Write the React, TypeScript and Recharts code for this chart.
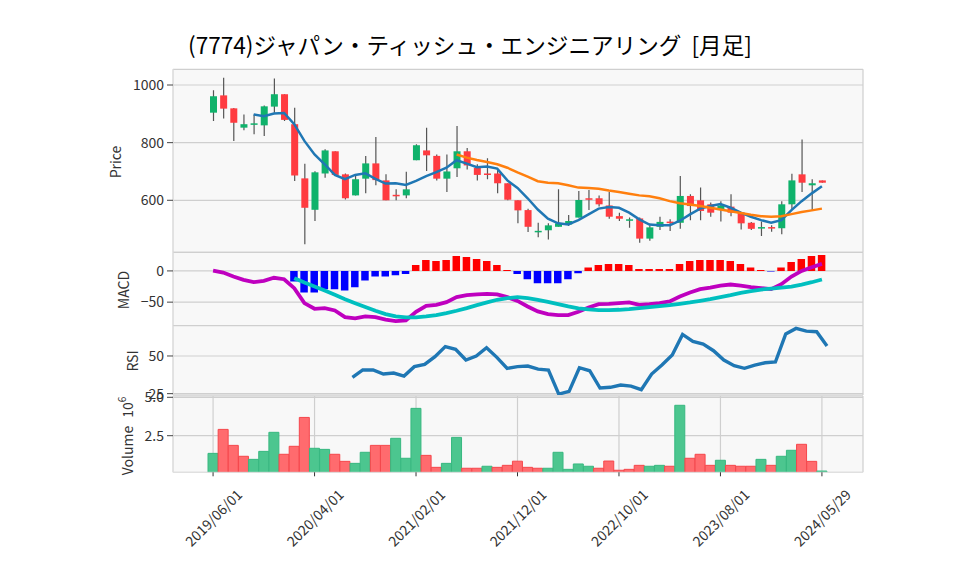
import React from 'react';
import { ComposedChart, Bar, Line, XAxis, YAxis, CartesianGrid, Cell } from 'recharts';

const FONT = '"Noto Sans CJK JP", "Noto Sans", sans-serif';
const UP = '#0fb26b';
const DOWN = '#ff3b40';
const W = 958;
const H = 575;

// month labels (the last one is the current, partial month)
const dates = [
  '2019/06/01', '2019/07/01', '2019/08/01', '2019/09/01', '2019/10/01', '2019/11/01', '2019/12/01',
  '2020/01/01', '2020/02/01', '2020/03/01', '2020/04/01', '2020/05/01', '2020/06/01', '2020/07/01',
  '2020/08/01', '2020/09/01', '2020/10/01', '2020/11/01', '2020/12/01', '2021/01/01', '2021/02/01',
  '2021/03/01', '2021/04/01', '2021/05/01', '2021/06/01', '2021/07/01', '2021/08/01', '2021/09/01',
  '2021/10/01', '2021/11/01', '2021/12/01', '2022/01/01', '2022/02/01', '2022/03/01', '2022/04/01',
  '2022/05/01', '2022/06/01', '2022/07/01', '2022/08/01', '2022/09/01', '2022/10/01', '2022/11/01',
  '2022/12/01', '2023/01/01', '2023/02/01', '2023/03/01', '2023/04/01', '2023/05/01', '2023/06/01',
  '2023/07/01', '2023/08/01', '2023/09/01', '2023/10/01', '2023/11/01', '2023/12/01', '2024/01/01',
  '2024/02/01', '2024/03/01', '2024/04/01', '2024/05/01', '2024/05/29',
];

const opens = [
  904, 964, 919, 852, 866, 860, 925, 968, 864, 676, 567, 693, 770, 690, 617, 675, 728, 669, 619, 617,
  739, 773, 754, 675, 711, 770, 712, 693, 693, 659, 600, 566, 492, 496, 508, 516, 540, 607, 607, 582,
  545, 529, 537, 467, 508, 526, 522, 615, 600, 586, 566, 578, 557, 522, 503, 507, 503, 586, 690, 652, 669,
];
const highs = [
  982, 1025, 920, 898, 898, 929, 1023, 968, 921, 727, 701, 777, 770, 693, 690, 754, 820, 690, 638, 699,
  794, 852, 759, 759, 858, 781, 725, 746, 707, 659, 600, 571, 522, 520, 638, 549, 632, 636, 617, 629,
  557, 540, 540, 513, 543, 534, 684, 621, 644, 592, 597, 621, 557, 525, 526, 513, 597, 692, 811, 673, 669,
];
const lows = [
  875, 884, 806, 843, 829, 823, 904, 875, 667, 447, 528, 678, 688, 603, 617, 624, 652, 600, 600, 607,
  739, 702, 669, 629, 681, 707, 669, 673, 624, 600, 520, 490, 472, 464, 508, 511, 540, 566, 578, 536,
  528, 505, 453, 460, 497, 493, 501, 531, 531, 543, 526, 545, 499, 497, 476, 491, 482, 566, 629, 566, 661,
];
const closes = [
  961, 918, 869, 864, 867, 926, 968, 879, 686, 574, 697, 773, 688, 607, 673, 728, 670, 600, 617, 638,
  791, 756, 675, 700, 770, 721, 688, 689, 659, 602, 565, 508, 494, 513, 520, 528, 601, 604, 586, 543,
  536, 534, 467, 506, 525, 523, 615, 580, 563, 557, 582, 557, 520, 501, 507, 505, 586, 669, 661, 659, 661,
];
// volume in millions of shares
const volumes = [
  1.35, 2.91, 1.87, 1.16, 0.96, 1.48, 2.72, 1.29, 1.81, 3.69, 1.68, 1.61, 1.29, 0.83, 0.7, 1.42, 1.87, 1.87,
  2.33, 1.03, 4.28, 1.22, 0.44, 0.7, 2.39, 0.38, 0.38, 0.51, 0.44, 0.57, 0.84, 0.44, 0.38, 0.38, 1.42, 0.31,
  0.66, 0.51, 0.38, 0.85, 0.25, 0.31, 0.57, 0.51, 0.57, 0.51, 4.48, 1.03, 1.29, 0.57, 0.9, 0.57, 0.51, 0.51,
  0.96, 0.57, 1.16, 1.55, 1.94, 0.83, 0.2,
];
const ma5 = [
  null, null, null, null, 898, 892, 901, 903, 864, 806, 759, 725, 688, 673, 688, 694, 674, 658, 659, 653,
  667, 684, 698, 713, 739, 727, 715, 717, 710, 669, 643, 607, 568, 536, 520, 516, 531, 551, 571, 577,
  574, 557, 534, 516, 513, 513, 529, 551, 571, 580, 587, 574, 557, 543, 531, 522, 531, 566, 597, 624, 649,
];
const ma25 = [
  null, null, null, null, null, null, null, null, null, null, null, null, null, null, null, null, null, null,
  null, null, null, null, null, null, 759, 748, 740, 733, 725, 713, 697, 682, 666, 661, 659, 652, 644, 643,
  640, 634, 629, 623, 617, 614, 607, 597, 590, 585, 580, 574, 568, 562, 556, 550, 545, 543, 545, 552, 559,
  565, 571,
];
const macd = [
  0.5, -2.6, -9, -14.3, -18, -16, -11, -13.3, -27.6, -51.6, -60.6, -59.5, -63.3, -73.9, -76, -72.8, -73.9,
  -78.1, -80.3, -79.2, -65.4, -55.8, -54.2, -50, -42, -38.8, -37.7, -36.7, -37.7, -42, -48, -56.9, -64.8,
  -69.1, -70.7, -70.7, -65.4, -58.5, -53.2, -52.6, -51.6, -50.5, -54.2, -53.2, -51.6, -48.9, -40.9, -34.5,
  -29.2, -26.6, -23.4, -21.8, -23.4, -26, -27.6, -29.2, -21.3, -9, 0, 5.9, 11.2,
];
const signal = [
  null, null, null, null, null, null, null, null, -11.7, -18.6, -25, -31.4, -38.3, -45.2, -51.6, -57.9,
  -63.8, -69.1, -72.8, -74.4, -74.4, -72.8, -70.7, -67.5, -63.8, -59.5, -54.7, -50.5, -46.2, -43.6, -42,
  -43.6, -46.2, -49.4, -53.2, -56.9, -60.1, -61.7, -62.7, -62.7, -62.2, -61.1, -59.5, -57.9, -56.3, -54.7,
  -52.6, -50.5, -47.8, -45.2, -42, -38.8, -35.1, -32.4, -29.8, -28.2, -26.6, -25, -21.8, -18.1, -13.8,
];
const hist = [
  null, null, null, null, null, null, null, null, -17, -34.5, -34.5, -29.2, -29.2, -31.4, -26, -15.4, -9,
  -9, -6.9, -4.8, 9.6, 17.5, 16, 17.5, 23.9, 22.3, 19.1, 16, 9.6, 1.6, -5, -13.3, -19.7, -19.7, -19.7,
  -13.3, -3.7, 5.3, 9.6, 11.2, 11.2, 9.6, 3.2, 3.2, 3.2, 3.2, 11.2, 16, 17.5, 17.5, 17.5, 16, 11.2, 5.3,
  1.6, -1, 5.3, 14.4, 19.1, 23.9, 25.5,
];
const rsi = [
  null, null, null, null, null, null, null, null, null, null, null, null, null, null, 35.8, 40.7, 40.7, 38,
  38.7, 36.7, 42.9, 44.4, 49.5, 56.2, 54.4, 47.3, 50, 55.5, 49.1, 41.8, 42.9, 43.3, 41.3, 40.7, 24.7, 26.5,
  42.2, 40.2, 28.7, 29.2, 30.7, 30, 27.6, 38, 44, 50.6, 64.3, 59.7, 57.9, 53.5, 47.3, 43.5, 41.8, 44, 45.5,
  46, 64.6, 68.3, 66.5, 66.1, 56.6,
];

const rows = dates.map((date, i) => ({
  idx: i,
  date,
  open: opens[i],
  high: highs[i],
  low: lows[i],
  close: closes[i],
  volume: volumes[i],
  volUp: i === 0 || closes[i] >= closes[i - 1],
  ma5: ma5[i],
  ma25: ma25[i],
  macd: macd[i],
  signal: signal[i],
  hist: hist[i],
  rsi: rsi[i],
}));

const PLOT_L = 173;
const PLOT_R = 863;
const Y_W = 60;
const PAD = { left: 35, right: 36 };
const GRID = '#cfcfcf';
const BG = '#f8f8f8';
const SPINE = '#e4e4e4';
const tickStyle = { fontSize: 14, fill: '#333', fontFamily: FONT };

const Candle = (props: any) => {
  const { x, y, width, height, payload } = props;
  const { open, close, high, low } = payload;
  const cx = x + width / 2;
  const k = high === low ? 0 : height / (high - low);
  const top = y + (high - Math.max(open, close)) * k;
  const bot = y + (high - Math.min(open, close)) * k;
  return (
    <g>
      <line x1={cx} x2={cx} y1={y} y2={y + height} stroke="#555" strokeWidth={1.2} />
      <rect x={x} y={top} width={width} height={Math.max(bot - top, 1.5)} fill={close >= open ? UP : DOWN} />
    </g>
  );
};

const DateTick = (props: any) => {
  const { x, y, payload } = props;
  const cy = y + 39;
  return (
    <text
      x={x}
      y={cy}
      textAnchor="middle"
      dominantBaseline="central"
      transform={`rotate(-45 ${x} ${cy})`}
      fontSize={14}
      fill="#333"
      fontFamily={FONT}
    >
      {dates[payload.value]}
    </text>
  );
};

// one panel = one chart the size of the whole figure, margins place the plot area
const Panel = ({ top, bottom, children }: { top: number; bottom: number; children: React.ReactNode }) => (
  <div style={{ position: 'absolute', left: 0, top: 0 }}>
    <ComposedChart
      width={W}
      height={H}
      data={rows}
      margin={{ top, bottom: H - bottom, left: PLOT_L - Y_W, right: W - PLOT_R }}
    >
      <CartesianGrid stroke={GRID} fill={BG} strokeWidth={1.2} />
      <XAxis
        dataKey="idx"
        padding={PAD}
        interval={9}
        height={0}
        tick={false}
        tickLine={false}
        axisLine={{ stroke: SPINE }}
      />
      {children}
    </ComposedChart>
  </div>
);

const App = () => {
  return (
    <div style={{ position: 'absolute', left: 0, top: 0, width: W, height: H, background: '#fff', overflow: 'hidden' }}>
      <div
        style={{
          position: 'absolute',
          left: 188,
          top: 32,
          fontFamily: FONT,
          fontSize: 22.6,
          lineHeight: '26px',
          color: '#000',
          whiteSpace: 'pre',
        }}
      >
        (7774)ジャパン・ティッシュ・エンジニアリング  [月足]
      </div>

      {/* price */}
      <Panel top={69.3} bottom={252.3}>
        <YAxis
          width={Y_W}
          domain={[419.5, 1054.5]}
          allowDataOverflow
          ticks={[600, 800, 1000]}
          tick={tickStyle}
          tickSize={6}
          tickMargin={3}
          tickLine={{ stroke: '#444' }}
          axisLine={{ stroke: SPINE }}
        />
        <Bar dataKey={(d: any) => [d.low, d.high]} barSize={7} shape={<Candle />} isAnimationActive={false} />
        <Line dataKey="ma5" stroke="#1f77b4" strokeWidth={2.5} dot={false} isAnimationActive={false} />
        <Line dataKey="ma25" stroke="#ff7f0e" strokeWidth={2.5} dot={false} isAnimationActive={false} />
      </Panel>

      {/* macd */}
      <Panel top={252.3} bottom={325.7}>
        <YAxis
          width={Y_W}
          domain={[-87.7, 29.8]}
          allowDataOverflow
          ticks={[-50, 0]}
          tickFormatter={(v: number) => (v < 0 ? '\u2212' + Math.abs(v) : String(v))}
          tick={tickStyle}
          tickSize={6}
          tickMargin={3}
          tickLine={{ stroke: '#444' }}
          axisLine={{ stroke: SPINE }}
        />
        <Bar dataKey="hist" barSize={7.5} isAnimationActive={false}>
          {rows.map((r) => (
            <Cell key={r.idx} fill={(r.hist ?? 0) >= 0 ? '#ff0000' : '#0000ff'} />
          ))}
        </Bar>
        <Line dataKey="macd" stroke="#bf00bf" strokeWidth={3.8} dot={false} isAnimationActive={false} />
        <Line dataKey="signal" stroke="#00bfbf" strokeWidth={3.8} dot={false} isAnimationActive={false} />
      </Panel>

      {/* rsi */}
      <Panel top={325.7} bottom={395}>
        <YAxis
          width={Y_W}
          domain={[24.1, 70.1]}
          allowDataOverflow
          ticks={[25, 50]}
          tick={tickStyle}
          tickSize={6}
          tickMargin={3}
          tickLine={{ stroke: '#444' }}
          axisLine={{ stroke: SPINE }}
        />
        <Line dataKey="rsi" stroke="#1f77b4" strokeWidth={3.4} dot={false} isAnimationActive={false} />
      </Panel>

      {/* volume + date axis */}
      <div style={{ position: 'absolute', left: 0, top: 0 }}>
        <ComposedChart
          width={W}
          height={H}
          data={rows}
          margin={{ top: 396, bottom: H - 472.3 - 60, left: PLOT_L - Y_W, right: W - PLOT_R }}
        >
          <CartesianGrid stroke={GRID} fill={BG} strokeWidth={1.2} />
          <XAxis
            dataKey="idx"
            padding={PAD}
            interval={9}
            height={60}
            tick={<DateTick />}
            tickSize={4}
            tickMargin={2}
            tickLine={{ stroke: '#333' }}
            axisLine={{ stroke: SPINE }}
          />
          <YAxis
            width={Y_W}
            domain={[0.117, 5.085]}
            allowDataOverflow
            ticks={[2.5, 5]}
            tickFormatter={(v: number) => v.toFixed(1)}
            tick={tickStyle}
            tickSize={6}
            tickMargin={3}
            tickLine={{ stroke: '#444' }}
            axisLine={{ stroke: SPINE }}
          />
          <Bar dataKey="volume" barSize={10} isAnimationActive={false}>
            {rows.map((r) => (
              <Cell
                key={r.idx}
                fill={r.volUp ? '#4cc68f' : '#ff6b6e'}
                stroke={r.volUp ? '#38b880' : '#f5474c'}
                strokeWidth={1}
              />
            ))}
          </Bar>
        </ComposedChart>
      </div>

      {/* panel titles */}
      <svg width={W} height={H} style={{ position: 'absolute', left: 0, top: 0, pointerEvents: 'none' }}>
        <g fontFamily={FONT} fontSize={14} fill="#333" textAnchor="middle" dominantBaseline="central">
          <text x={115} y={162} transform="rotate(-90 115 162)">Price</text>
          <text x={123} y={290} transform="rotate(-90 123 290)">MACD</text>
          <text x={131.5} y={361} transform="rotate(-90 131.5 361)">RSI</text>
          <text x={126.5} y={436} transform="rotate(-90 126.5 436)">
            Volume<tspan dx={8}>10</tspan>
            <tspan dy={-6} fontSize={10}>6</tspan>
          </text>
        </g>
      </svg>
    </div>
  );
};

export default App;
